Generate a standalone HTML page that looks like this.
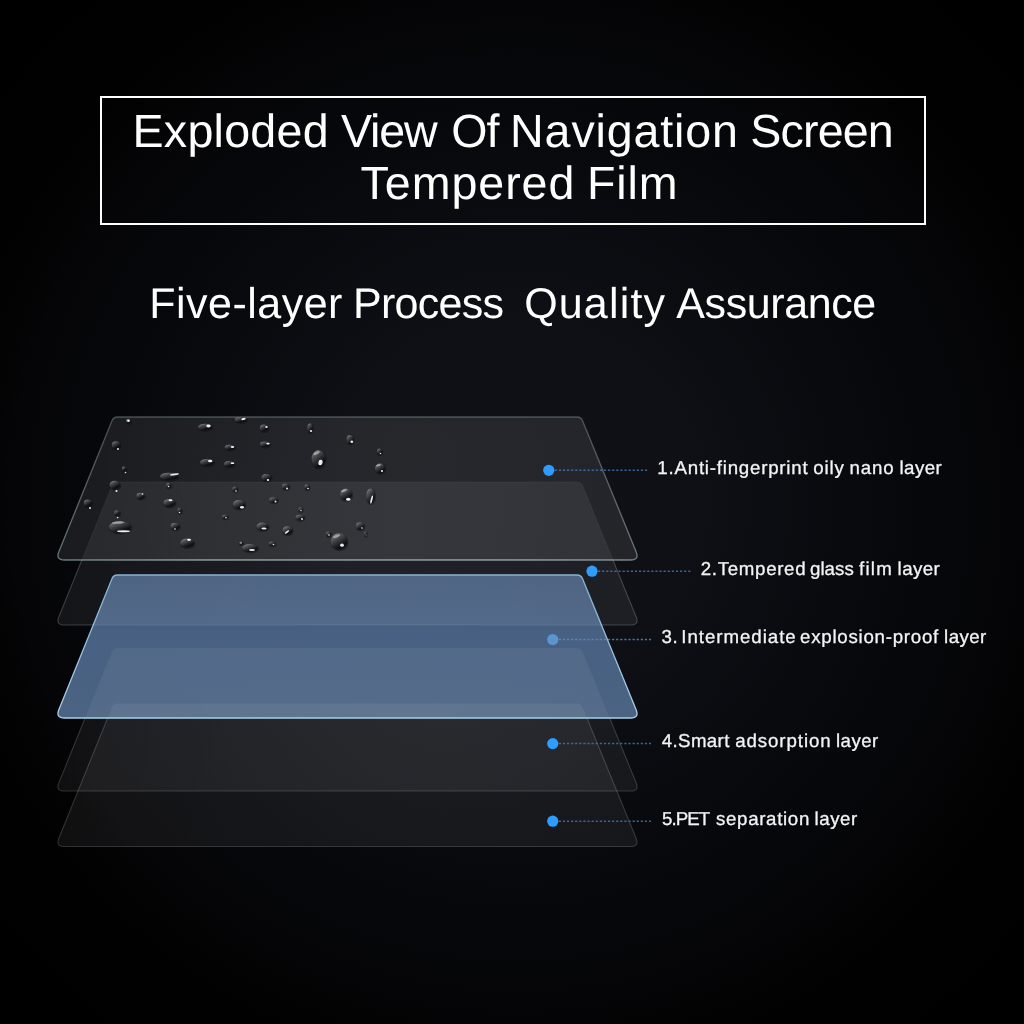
<!DOCTYPE html>
<html lang="en">
<head>
<meta charset="utf-8">
<title>Exploded View Of Navigation Screen Tempered Film</title>
<style>
*{box-sizing:border-box}
html,body{margin:0;padding:0}
body{width:1024px;height:1024px;overflow:hidden;background:#000;font-family:"Liberation Sans",sans-serif;color:#fff;position:relative}
.stage{position:absolute;left:0;top:0;width:1024px;height:1024px;overflow:hidden;
 background:radial-gradient(circle 525px at 515px 505px,#101117 0%,#0f1015 33%,#0c0d12 48%,#090a0e 64%,#06070a 80%,#050507 96%,#030304 100.5%,#010102 112%,#000 128%),#000}
.art{position:absolute;left:0;top:0}
.titlebox{position:absolute;left:100px;top:96px;width:826px;height:129px;border:2px solid #fff}
.t{position:absolute;white-space:pre;line-height:1;color:#fff;margin:0;font-weight:400;transform:translateZ(0);text-rendering:geometricPrecision}
.lab{color:#f4f4f4;-webkit-text-stroke:0.3px #f4f4f4}
</style>
</head>
<body>
<div class="stage">
<svg class="art" width="1024" height="1024" viewBox="0 0 1024 1024">
<defs>
<linearGradient id="gBlue" gradientUnits="userSpaceOnUse" x1="0" y1="575" x2="0" y2="718">
<stop offset="0" stop-color="#425a7a"/><stop offset="0.4" stop-color="#486082"/><stop offset="1" stop-color="#4b6482"/>
</linearGradient>
<linearGradient id="gL1s" gradientUnits="userSpaceOnUse" x1="0" y1="417" x2="0" y2="560">
<stop offset="0" stop-color="#8fa2a6" stop-opacity="0.42"/><stop offset="1" stop-color="#a3b6ba" stop-opacity="0.6"/>
</linearGradient>
<linearGradient id="gL1b" gradientUnits="userSpaceOnUse" x1="55" y1="0" x2="640" y2="0">
<stop offset="0" stop-color="#b4c6ca" stop-opacity="0"/><stop offset="0.25" stop-color="#b4c6ca" stop-opacity="0.3"/><stop offset="0.8" stop-color="#b4c6ca" stop-opacity="0.32"/><stop offset="1" stop-color="#b4c6ca" stop-opacity="0.1"/>
</linearGradient>
<linearGradient id="gBs" gradientUnits="userSpaceOnUse" x1="0" y1="575" x2="0" y2="718">
<stop offset="0" stop-color="#86b2d2"/><stop offset="1" stop-color="#a6d0ea"/>
</linearGradient>
<linearGradient id="drop" x1="0.2" y1="0.05" x2="0.8" y2="0.95">
<stop offset="0" stop-color="#9a9a9c"/><stop offset="0.22" stop-color="#5c5c5f"/><stop offset="0.55" stop-color="#2c2c30"/><stop offset="0.8" stop-color="#0a0a12"/><stop offset="1" stop-color="#15151c"/>
</linearGradient>
<linearGradient id="gA" gradientUnits="userSpaceOnUse" x1="55" y1="0" x2="640" y2="0">
<stop offset="0" stop-color="#fbfcff" stop-opacity="0.86"/><stop offset="0.3" stop-color="#fbfcff" stop-opacity="0.95"/><stop offset="0.6" stop-color="#fbfcff" stop-opacity="1"/><stop offset="1" stop-color="#fbfcff" stop-opacity="0.9"/>
</linearGradient>
<mask id="mOutL1" maskUnits="userSpaceOnUse" x="0" y="0" width="1024" height="1024">
<rect width="1024" height="1024" fill="#fff"/><path d="M111.98 578.74 Q113.50 575.00 117.54 575.00 L576.97 575.00 Q581.00 575.00 582.53 578.73 L636.12 709.73 Q639.50 718.00 630.56 718.00 L64.41 718.00 Q55.50 718.00 58.85 709.74 Z" fill="#777"/><path d="M111.98 420.74 Q113.50 417.00 117.54 417.00 L576.97 417.00 Q581.00 417.00 582.53 420.73 L636.12 551.73 Q639.50 560.00 630.56 560.00 L64.41 560.00 Q55.50 560.00 58.85 551.74 Z" fill="#3a3a3a"/>
</mask>
<mask id="mOutB" maskUnits="userSpaceOnUse" x="0" y="0" width="1024" height="1024">
<rect width="1024" height="1024" fill="#fff"/><path d="M111.98 578.74 Q113.50 575.00 117.54 575.00 L576.97 575.00 Q581.00 575.00 582.53 578.73 L636.12 709.73 Q639.50 718.00 630.56 718.00 L64.41 718.00 Q55.50 718.00 58.85 709.74 Z" fill="#2a2a2a"/>
</mask>
</defs>
<g mask="url(#mOutB)" fill="none" stroke="rgba(255,255,255,0.17)" stroke-width="1.1"><path d="M111.98 707.24 Q113.50 703.50 117.54 703.50 L576.97 703.50 Q581.00 703.50 582.53 707.23 L636.12 838.23 Q639.50 846.50 630.56 846.50 L64.41 846.50 Q55.50 846.50 58.85 838.24 Z"/><path d="M111.98 651.74 Q113.50 648.00 117.54 648.00 L576.97 648.00 Q581.00 648.00 582.53 651.73 L636.12 782.73 Q639.50 791.00 630.56 791.00 L64.41 791.00 Q55.50 791.00 58.85 782.74 Z"/></g>
<path d="M111.98 578.74 Q113.50 575.00 117.54 575.00 L576.97 575.00 Q581.00 575.00 582.53 578.73 L636.12 709.73 Q639.50 718.00 630.56 718.00 L64.41 718.00 Q55.50 718.00 58.85 709.74 Z" fill="url(#gBlue)"/>
<path d="M111.98 707.24 Q113.50 703.50 117.54 703.50 L576.97 703.50 Q581.00 703.50 582.53 707.23 L636.12 838.23 Q639.50 846.50 630.56 846.50 L64.41 846.50 Q55.50 846.50 58.85 838.24 Z" fill="url(#gA)" fill-opacity="0.062"/>
<path d="M111.98 651.74 Q113.50 648.00 117.54 648.00 L576.97 648.00 Q581.00 648.00 582.53 651.73 L636.12 782.73 Q639.50 791.00 630.56 791.00 L64.41 791.00 Q55.50 791.00 58.85 782.74 Z" fill="url(#gA)" fill-opacity="0.060"/>
<path d="M111.98 485.74 Q113.50 482.00 117.54 482.00 L576.97 482.00 Q581.00 482.00 582.53 485.73 L636.12 616.73 Q639.50 625.00 630.56 625.00 L64.41 625.00 Q55.50 625.00 58.85 616.74 Z" fill="url(#gA)" fill-opacity="0.072"/>
<path d="M111.98 420.74 Q113.50 417.00 117.54 417.00 L576.97 417.00 Q581.00 417.00 582.53 420.73 L636.12 551.73 Q639.50 560.00 630.56 560.00 L64.41 560.00 Q55.50 560.00 58.85 551.74 Z" fill="url(#gA)" fill-opacity="0.098"/>
<path d="M111.98 578.74 Q113.50 575.00 117.54 575.00 L576.97 575.00 Q581.00 575.00 582.53 578.73 L636.12 709.73 Q639.50 718.00 630.56 718.00 L64.41 718.00 Q55.50 718.00 58.85 709.74 Z" fill="none" stroke="url(#gBs)" stroke-width="1.3"/>
<path d="M111.98 485.74 Q113.50 482.00 117.54 482.00 L576.97 482.00 Q581.00 482.00 582.53 485.73 L636.12 616.73 Q639.50 625.00 630.56 625.00 L64.41 625.00 Q55.50 625.00 58.85 616.74 Z" fill="none" stroke="rgba(225,232,236,0.22)" stroke-width="1.1" mask="url(#mOutL1)"/>
<path d="M111.98 420.74 Q113.50 417.00 117.54 417.00 L576.97 417.00 Q581.00 417.00 582.53 420.73 L636.12 551.73 Q639.50 560.00 630.56 560.00 L64.41 560.00 Q55.50 560.00 58.85 551.74 Z" fill="none" stroke="url(#gL1s)" stroke-width="1.3"/>
<rect x="62" y="559.1" width="571" height="1.6" fill="url(#gL1b)"/>
<g class="drops">
<ellipse cx="128.8" cy="421.8" rx="3.2" ry="3.0" fill="#0a0a10" opacity="0.4"/>
<ellipse cx="128.3" cy="421" rx="2.5" ry="2.3" fill="url(#drop)" opacity="0.85"/>
<ellipse cx="128.5" cy="420.8" rx="1.35" ry="1.20" fill="#fff" opacity="0.9"/>
<ellipse cx="116.5" cy="445.8" rx="4.9" ry="4.5" fill="#0a0a10" opacity="0.4"/>
<ellipse cx="116" cy="445" rx="4.2" ry="3.8" fill="url(#drop)" opacity="0.85"/>
<ellipse cx="118" cy="449" rx="0.99" ry="0.88" fill="#fff" opacity="0.9"/>
<ellipse cx="124.5" cy="469.8" rx="2.9000000000000004" ry="3.0999999999999996" fill="#0a0a10" opacity="0.4"/>
<ellipse cx="124" cy="469" rx="2.2" ry="2.4" fill="url(#drop)" opacity="0.85"/>
<ellipse cx="125.5" cy="472.5" rx="0.81" ry="0.72" fill="#fff" opacity="0.9"/>
<ellipse cx="115.2" cy="485.8" rx="5.9" ry="4.9" fill="#0a0a10" opacity="0.4"/>
<ellipse cx="114.7" cy="485" rx="5.2" ry="4.2" fill="url(#drop)" opacity="0.85"/>
<ellipse cx="116.5" cy="491" rx="1.08" ry="0.96" fill="#fff" opacity="0.9"/>
<ellipse cx="88.3" cy="503.8" rx="4.7" ry="4.3" fill="#0a0a10" opacity="0.4"/>
<ellipse cx="87.8" cy="503" rx="4" ry="3.6" fill="url(#drop)" opacity="0.85"/>
<ellipse cx="90" cy="508" rx="0.99" ry="0.88" fill="#fff" opacity="0.9"/>
<ellipse cx="117.5" cy="513.8" rx="3.5" ry="3.5" fill="#0a0a10" opacity="0.4"/>
<ellipse cx="117" cy="513" rx="2.8" ry="2.8" fill="url(#drop)" opacity="0.85"/>
<ellipse cx="117.6" cy="517.5" rx="0.90" ry="0.80" fill="#fff" opacity="0.9"/>
<ellipse cx="120.5" cy="527.8" rx="11.7" ry="6.7" fill="#0a0a10" opacity="0.4"/>
<ellipse cx="120" cy="527" rx="11" ry="6" fill="url(#drop)" opacity="0.85"/>
<ellipse cx="118.0" cy="522.6" rx="6.0" ry="1.2" fill="#d8d8da" opacity="0.55" transform="rotate(-4 118.0 522.6)"/>
<ellipse cx="123.5" cy="531.2" rx="6.5" ry="1.0" fill="#fff" opacity="0.92"/>
<ellipse cx="141.0" cy="496.8" rx="4.7" ry="3.9000000000000004" fill="#0a0a10" opacity="0.4"/>
<ellipse cx="140.5" cy="496" rx="4" ry="3.2" fill="url(#drop)" opacity="0.85"/>
<ellipse cx="142.5" cy="494" rx="0.90" ry="0.80" fill="#fff" opacity="0.9"/>
<ellipse cx="169.5" cy="477.2" rx="9.7" ry="4.3" fill="#0a0a10" opacity="0.4"/>
<ellipse cx="169" cy="476.4" rx="9" ry="3.6" fill="url(#drop)" opacity="0.85"/>
<ellipse cx="174.5" cy="474.3" rx="4.6" ry="0.9" fill="#fff" opacity="0.92" transform="rotate(-8 174.5 474.3)"/>
<ellipse cx="169.1" cy="486.3" rx="3.0999999999999996" ry="3.0999999999999996" fill="#0a0a10" opacity="0.4"/>
<ellipse cx="168.6" cy="485.5" rx="2.4" ry="2.4" fill="url(#drop)" opacity="0.85"/>
<ellipse cx="168.6" cy="486.5" rx="0.81" ry="0.72" fill="#fff" opacity="0.9"/>
<ellipse cx="169.9" cy="503.8" rx="6.7" ry="4.7" fill="#0a0a10" opacity="0.4"/>
<ellipse cx="169.4" cy="503" rx="6" ry="4" fill="url(#drop)" opacity="0.85"/>
<ellipse cx="170.5" cy="500.2" rx="2.0" ry="1.0" fill="#fff" opacity="0.92"/>
<ellipse cx="180.0" cy="511.3" rx="2.9000000000000004" ry="3.3" fill="#0a0a10" opacity="0.4"/>
<ellipse cx="179.5" cy="510.5" rx="2.2" ry="2.6" fill="url(#drop)" opacity="0.85"/>
<ellipse cx="179.5" cy="512.5" rx="0.81" ry="0.72" fill="#fff" opacity="0.9"/>
<ellipse cx="175.5" cy="527.1999999999999" rx="5.1000000000000005" ry="4.1" fill="#0a0a10" opacity="0.4"/>
<ellipse cx="175" cy="526.4" rx="4.4" ry="3.4" fill="url(#drop)" opacity="0.85"/>
<ellipse cx="175" cy="529" rx="0.90" ry="0.80" fill="#fff" opacity="0.9"/>
<ellipse cx="187.8" cy="543.8" rx="7.7" ry="5.3" fill="#0a0a10" opacity="0.4"/>
<ellipse cx="187.3" cy="543" rx="7" ry="4.6" fill="url(#drop)" opacity="0.85"/>
<ellipse cx="189.0" cy="539.8" rx="2.0" ry="1.1" fill="#fff" opacity="0.92"/>
<ellipse cx="205.5" cy="427.8" rx="7.7" ry="3.9000000000000004" fill="#0a0a10" opacity="0.4"/>
<ellipse cx="205" cy="427" rx="7" ry="3.2" fill="url(#drop)" opacity="0.85"/>
<ellipse cx="208.5" cy="426.0" rx="2.2" ry="1.4" fill="#fff" opacity="0.92"/>
<ellipse cx="207.5" cy="463.3" rx="7.7" ry="4.3" fill="#0a0a10" opacity="0.4"/>
<ellipse cx="207" cy="462.5" rx="7" ry="3.6" fill="url(#drop)" opacity="0.85"/>
<ellipse cx="210.2" cy="461.0" rx="2.2" ry="1.3" fill="#fff" opacity="0.92"/>
<ellipse cx="241.1" cy="420.5" rx="6.7" ry="3.5" fill="#0a0a10" opacity="0.4"/>
<ellipse cx="240.6" cy="419.7" rx="6" ry="2.8" fill="url(#drop)" opacity="0.85"/>
<ellipse cx="243.5" cy="419.0" rx="2.2" ry="1.1" fill="#fff" opacity="0.92" transform="rotate(-10 243.5 419.0)"/>
<ellipse cx="264.5" cy="428.8" rx="4.9" ry="4.3" fill="#0a0a10" opacity="0.4"/>
<ellipse cx="264" cy="428" rx="4.2" ry="3.6" fill="url(#drop)" opacity="0.85"/>
<ellipse cx="266.5" cy="427" rx="1.17" ry="1.04" fill="#fff" opacity="0.9"/>
<ellipse cx="310.5" cy="428.8" rx="3.3" ry="5.3" fill="#0a0a10" opacity="0.4"/>
<ellipse cx="310" cy="428" rx="2.6" ry="4.6" fill="url(#drop)" opacity="0.85"/>
<ellipse cx="311" cy="431" rx="1.17" ry="1.04" fill="#fff" opacity="0.9"/>
<ellipse cx="350.5" cy="440.3" rx="4.1" ry="5.3" fill="#0a0a10" opacity="0.4"/>
<ellipse cx="350" cy="439.5" rx="3.4" ry="4.6" fill="url(#drop)" opacity="0.85"/>
<ellipse cx="351.8" cy="441.8" rx="1.44" ry="1.28" fill="#fff" opacity="0.9"/>
<ellipse cx="230.2" cy="448.2" rx="5.7" ry="3.3" fill="#0a0a10" opacity="0.4"/>
<ellipse cx="229.7" cy="447.4" rx="5" ry="2.6" fill="url(#drop)" opacity="0.85"/>
<ellipse cx="232.5" cy="447.0" rx="1.8" ry="0.9" fill="#fff" opacity="0.92"/>
<ellipse cx="265.5" cy="445.0" rx="5.7" ry="3.5" fill="#0a0a10" opacity="0.4"/>
<ellipse cx="265" cy="444.2" rx="5" ry="2.8" fill="url(#drop)" opacity="0.85"/>
<ellipse cx="268.0" cy="443.6" rx="1.8" ry="0.9" fill="#fff" opacity="0.92"/>
<ellipse cx="229.5" cy="464.8" rx="5.9" ry="3.7" fill="#0a0a10" opacity="0.4"/>
<ellipse cx="229" cy="464" rx="5.2" ry="3" fill="url(#drop)" opacity="0.85"/>
<ellipse cx="232.5" cy="463.2" rx="1.8" ry="0.9" fill="#fff" opacity="0.92"/>
<ellipse cx="319.0" cy="459.8" rx="7.7" ry="9.7" fill="#0a0a10" opacity="0.4"/>
<ellipse cx="318.5" cy="459" rx="7" ry="9" fill="url(#drop)" opacity="0.85"/>
<ellipse cx="316.6" cy="453.2" rx="3.4" ry="1.3" fill="#d8d8da" opacity="0.55" transform="rotate(-28 316.6 453.2)"/>
<ellipse cx="320.5" cy="462.5" rx="2.1" ry="2.8" fill="#fff" opacity="0.92" transform="rotate(10 320.5 462.5)"/>
<ellipse cx="266.9" cy="478.3" rx="5.7" ry="4.3" fill="#0a0a10" opacity="0.4"/>
<ellipse cx="266.4" cy="477.5" rx="5" ry="3.6" fill="url(#drop)" opacity="0.85"/>
<ellipse cx="268" cy="480" rx="1.26" ry="1.12" fill="#fff" opacity="0.9"/>
<ellipse cx="235.5" cy="489.8" rx="3.3" ry="3.3" fill="#0a0a10" opacity="0.4"/>
<ellipse cx="235" cy="489" rx="2.6" ry="2.6" fill="url(#drop)" opacity="0.85"/>
<ellipse cx="236" cy="491" rx="0.90" ry="0.80" fill="#fff" opacity="0.9"/>
<ellipse cx="286.0" cy="487.3" rx="4.3" ry="3.7" fill="#0a0a10" opacity="0.4"/>
<ellipse cx="285.5" cy="486.5" rx="3.6" ry="3" fill="url(#drop)" opacity="0.85"/>
<ellipse cx="287" cy="488.5" rx="0.99" ry="0.88" fill="#fff" opacity="0.9"/>
<ellipse cx="307.5" cy="487.8" rx="3.0999999999999996" ry="3.5" fill="#0a0a10" opacity="0.4"/>
<ellipse cx="307" cy="487" rx="2.4" ry="2.8" fill="url(#drop)" opacity="0.85"/>
<ellipse cx="308" cy="488.5" rx="0.90" ry="0.80" fill="#fff" opacity="0.9"/>
<ellipse cx="346.5" cy="495.3" rx="6.7" ry="6.7" fill="#0a0a10" opacity="0.4"/>
<ellipse cx="346" cy="494.5" rx="6" ry="6" fill="url(#drop)" opacity="0.85"/>
<ellipse cx="344.2" cy="490.6" rx="3.0" ry="1.2" fill="#d8d8da" opacity="0.55" transform="rotate(-20 344.2 490.6)"/>
<ellipse cx="348.3" cy="499.2" rx="2.3" ry="1.5" fill="#fff" opacity="0.92"/>
<ellipse cx="239.5" cy="505.3" rx="6.9" ry="5.3" fill="#0a0a10" opacity="0.4"/>
<ellipse cx="239" cy="504.5" rx="6.2" ry="4.6" fill="url(#drop)" opacity="0.85"/>
<ellipse cx="242.0" cy="507.3" rx="2.0" ry="1.3" fill="#fff" opacity="0.92"/>
<ellipse cx="273.9" cy="500.8" rx="4.9" ry="3.5" fill="#0a0a10" opacity="0.4"/>
<ellipse cx="273.4" cy="500" rx="4.2" ry="2.8" fill="url(#drop)" opacity="0.85"/>
<ellipse cx="275.5" cy="501.5" rx="0.99" ry="0.88" fill="#fff" opacity="0.9"/>
<ellipse cx="225.5" cy="517.5999999999999" rx="3.5" ry="2.7" fill="#0a0a10" opacity="0.4"/>
<ellipse cx="225" cy="516.8" rx="2.8" ry="2" fill="url(#drop)" opacity="0.85"/>
<ellipse cx="226" cy="517.8" rx="0.81" ry="0.72" fill="#fff" opacity="0.9"/>
<ellipse cx="301.0" cy="510.3" rx="2.7" ry="2.9000000000000004" fill="#0a0a10" opacity="0.4"/>
<ellipse cx="300.5" cy="509.5" rx="2" ry="2.2" fill="url(#drop)" opacity="0.85"/>
<ellipse cx="301" cy="510.5" rx="0.72" ry="0.64" fill="#fff" opacity="0.9"/>
<ellipse cx="300.5" cy="518.3" rx="5.1000000000000005" ry="3.5" fill="#0a0a10" opacity="0.4"/>
<ellipse cx="300" cy="517.5" rx="4.4" ry="2.8" fill="url(#drop)" opacity="0.85"/>
<ellipse cx="302" cy="519" rx="0.99" ry="0.88" fill="#fff" opacity="0.9"/>
<ellipse cx="263.0" cy="527.4" rx="6.7" ry="4.7" fill="#0a0a10" opacity="0.4"/>
<ellipse cx="262.5" cy="526.6" rx="6" ry="4" fill="url(#drop)" opacity="0.85"/>
<ellipse cx="264.0" cy="528.6" rx="2.6" ry="1.0" fill="#fff" opacity="0.92"/>
<ellipse cx="288.0" cy="531.3" rx="5.7" ry="4.9" fill="#0a0a10" opacity="0.4"/>
<ellipse cx="287.5" cy="530.5" rx="5" ry="4.2" fill="url(#drop)" opacity="0.85"/>
<ellipse cx="287.0" cy="532.0" rx="2.6" ry="0.8" fill="#fff" opacity="0.92" transform="rotate(-35 287.0 532.0)"/>
<ellipse cx="250.5" cy="548.8" rx="8.7" ry="4.7" fill="#0a0a10" opacity="0.4"/>
<ellipse cx="250" cy="548" rx="8" ry="4" fill="url(#drop)" opacity="0.85"/>
<ellipse cx="252.0" cy="550.0" rx="3.0" ry="0.9" fill="#fff" opacity="0.92"/>
<ellipse cx="241.5" cy="543.8" rx="2.7" ry="2.3" fill="#0a0a10" opacity="0.4"/>
<ellipse cx="241" cy="543" rx="2" ry="1.6" fill="url(#drop)" opacity="0.85"/>
<ellipse cx="241" cy="543" rx="0.72" ry="0.64" fill="#fff" opacity="0.9"/>
<ellipse cx="272.5" cy="544.4" rx="3.9000000000000004" ry="2.9000000000000004" fill="#0a0a10" opacity="0.4"/>
<ellipse cx="272" cy="543.6" rx="3.2" ry="2.2" fill="url(#drop)" opacity="0.85"/>
<ellipse cx="273.5" cy="544.5" rx="0.90" ry="0.80" fill="#fff" opacity="0.9"/>
<ellipse cx="339.5" cy="542.3" rx="9.1" ry="8.899999999999999" fill="#0a0a10" opacity="0.4"/>
<ellipse cx="339" cy="541.5" rx="8.4" ry="8.2" fill="url(#drop)" opacity="0.85"/>
<ellipse cx="336.6" cy="536.2" rx="3.6" ry="1.4" fill="#d8d8da" opacity="0.55" transform="rotate(-22 336.6 536.2)"/>
<ellipse cx="342.0" cy="545.2" rx="1.9" ry="1.6" fill="#fff" opacity="0.92"/>
<ellipse cx="328.9" cy="534.8" rx="3.0999999999999996" ry="3.3" fill="#0a0a10" opacity="0.4"/>
<ellipse cx="328.4" cy="534" rx="2.4" ry="2.6" fill="url(#drop)" opacity="0.85"/>
<ellipse cx="329" cy="535" rx="0.90" ry="0.80" fill="#fff" opacity="0.9"/>
<ellipse cx="380.0" cy="452.3" rx="3.0999999999999996" ry="3.7" fill="#0a0a10" opacity="0.4"/>
<ellipse cx="379.5" cy="451.5" rx="2.4" ry="3" fill="url(#drop)" opacity="0.85"/>
<ellipse cx="380.5" cy="453.5" rx="0.81" ry="0.72" fill="#fff" opacity="0.9"/>
<ellipse cx="380.5" cy="469.3" rx="5.7" ry="5.7" fill="#0a0a10" opacity="0.4"/>
<ellipse cx="380" cy="468.5" rx="5" ry="5" fill="url(#drop)" opacity="0.85"/>
<ellipse cx="378.6" cy="465.2" rx="2.4" ry="1.0" fill="#d8d8da" opacity="0.55" transform="rotate(-20 378.6 465.2)"/>
<ellipse cx="382" cy="471" rx="1.08" ry="0.96" fill="#fff" opacity="0.9"/>
<ellipse cx="371.0" cy="496.8" rx="5.1000000000000005" ry="8.299999999999999" fill="#0a0a10" opacity="0.4"/>
<ellipse cx="370.5" cy="496" rx="4.4" ry="7.6" fill="url(#drop)" opacity="0.85"/>
<ellipse cx="371.6" cy="499.5" rx="0.9" ry="4.2" fill="#fff" opacity="0.92" transform="rotate(14 371.6 499.5)"/>
<ellipse cx="360.5" cy="526.8" rx="4.9" ry="4.5" fill="#0a0a10" opacity="0.4"/>
<ellipse cx="360" cy="526" rx="4.2" ry="3.8" fill="url(#drop)" opacity="0.85"/>
<ellipse cx="362" cy="528" rx="0.90" ry="0.80" fill="#fff" opacity="0.9"/>
<ellipse cx="366.0" cy="534.8" rx="1.9" ry="2.9000000000000004" fill="#0a0a10" opacity="0.4"/>
<ellipse cx="365.5" cy="534" rx="1.2" ry="2.2" fill="url(#drop)" opacity="0.85"/>
<ellipse cx="366" cy="535" rx="0.54" ry="0.48" fill="#fff" opacity="0.9"/>
</g>
<line x1="554.75" y1="470.3" x2="647.5" y2="470.3" stroke="#4379b2" stroke-width="1.5" stroke-dasharray="2.2 1.9" opacity="0.8"/>
<circle cx="548.75" cy="470.3" r="5.6" fill="#2e9dff"/>
<line x1="598" y1="571.2" x2="691" y2="571.2" stroke="#4379b2" stroke-width="1.5" stroke-dasharray="2.2 1.9" opacity="0.8"/>
<circle cx="592" cy="571.2" r="5.6" fill="#2e9dff"/>
<line x1="558.75" y1="639.5" x2="651" y2="639.5" stroke="#5c8fc2" stroke-width="1.5" stroke-dasharray="2.2 1.9" opacity="0.8"/>
<circle cx="552.75" cy="639.5" r="5.6" fill="#5a95cd"/>
<line x1="558.75" y1="743.6" x2="651" y2="743.6" stroke="#4379b2" stroke-width="1.5" stroke-dasharray="2.2 1.9" opacity="0.8"/>
<circle cx="552.75" cy="743.6" r="5.6" fill="#2e9dff"/>
<line x1="558.75" y1="821.2" x2="651" y2="821.2" stroke="#4379b2" stroke-width="1.5" stroke-dasharray="2.2 1.9" opacity="0.8"/>
<circle cx="552.75" cy="821.2" r="5.6" fill="#2e9dff"/>
</svg>
<div class="titlebox"></div>
<div class="t" id="h1a" style="left:132.5px;top:108px;font-size:46.6px"><span class="w" style="letter-spacing:0.257px">Exploded</span> <span class="w" style="margin-left:-0.82px;letter-spacing:-1.147px">View</span> <span class="w" style="margin-left:1.83px;letter-spacing:-1.064px">Of</span> <span class="w" style="margin-left:-1.25px;letter-spacing:0.853px">Navigation</span> <span class="w" style="margin-left:-1.42px;letter-spacing:-0.864px">Screen</span></div>
<div class="t" id="h1b" style="left:360.5px;top:160px;font-size:46.6px"><span class="w" style="letter-spacing:0.958px">Tempered</span> <span class="w" style="margin-left:-1.43px;letter-spacing:0.881px">Film</span></div>
<div class="t" id="h2" style="left:149.25px;top:283px;font-size:43.0px"><span class="w" style="letter-spacing:0.483px">Five-layer</span> <span class="w" style="margin-left:-1.72px;letter-spacing:-0.739px">Process</span>  <span class="w" style="margin-left:-3.0px;letter-spacing:1.178px">Quality</span> <span class="w" style="margin-left:-1.92px;letter-spacing:-0.395px">Assurance</span></div>
<div class="t lab" id="l1" style="left:657.35px;top:459px;font-size:18.7px"><span class="w" style="letter-spacing:0.775px">1.Anti-fingerprint</span> <span class="w" style="margin-left:-0.34px;letter-spacing:0.845px">oily</span> <span class="w" style="margin-left:-0.42px;letter-spacing:0.845px">nano</span> <span class="w" style="margin-left:-0.17px;letter-spacing:0.454px">layer</span></div>
<div class="t lab" id="l2" style="left:700.75px;top:560px;font-size:18.7px"><span class="w" style="letter-spacing:0.684px">2.Tempered</span> <span class="w" style="margin-left:-1.47px;letter-spacing:0.025px">glass</span> <span class="w" style="margin-left:-0.06px;letter-spacing:1.295px">film</span> <span class="w" style="margin-left:-0.83px;letter-spacing:0.426px">layer</span></div>
<div class="t lab" id="l3" style="left:661.5px;top:628px;font-size:18.7px"><span class="w" style="letter-spacing:0.618px">3.</span> <span class="w" style="margin-left:-2.25px;letter-spacing:0.959px">Intermediate</span> <span class="w" style="margin-left:-1.84px;letter-spacing:0.743px">explosion-proof</span> <span class="w" style="margin-left:-0.12px;letter-spacing:0.43px">layer</span></div>
<div class="t lab" id="l4" style="left:661.75px;top:732px;font-size:18.7px"><span class="w" style="letter-spacing:0.371px">4.Smart</span> <span class="w" style="margin-left:0.21px;letter-spacing:0.912px">adsorption</span> <span class="w" style="margin-left:-0.83px;letter-spacing:0.444px">layer</span></div>
<div class="t lab" id="l5" style="left:661.9px;top:810px;font-size:18.7px"><span class="w" style="letter-spacing:-0.883px">5.PET</span> <span class="w" style="margin-left:1.43px;letter-spacing:0.667px">separation</span> <span class="w" style="margin-left:-0.64px;letter-spacing:0.528px">layer</span></div>
</div>
</body>
</html>
